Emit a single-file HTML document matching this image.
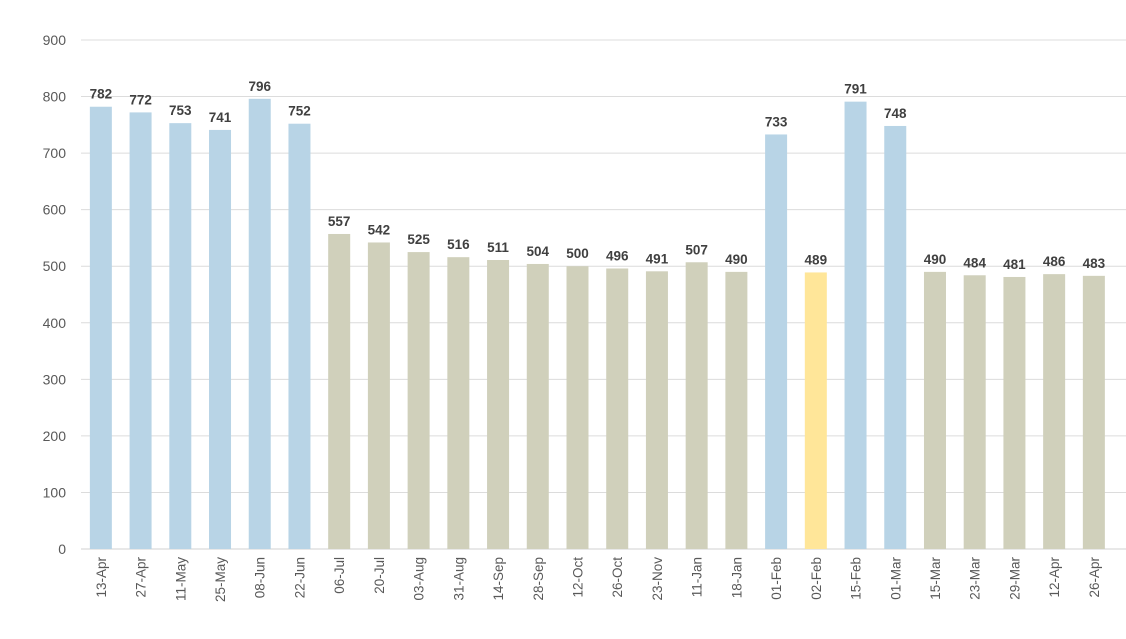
<!DOCTYPE html>
<html><head><meta charset="utf-8"><style>
html,body{margin:0;padding:0;background:#fff;}
svg{display:block;font-family:"Liberation Sans",sans-serif;}
</style></head><body>
<svg id="chart" width="1126" height="639" viewBox="0 0 1126 639"></svg>
<script>
const categories=["13-Apr","27-Apr","11-May","25-May","08-Jun","22-Jun","06-Jul","20-Jul","03-Aug","31-Aug","14-Sep","28-Sep","12-Oct","26-Oct","23-Nov","11-Jan","18-Jan","01-Feb","02-Feb","15-Feb","01-Mar","15-Mar","23-Mar","29-Mar","12-Apr","26-Apr"];
const values=[782,772,753,741,796,752,557,542,525,516,511,504,500,496,491,507,490,733,489,791,748,490,484,481,486,483];
const groups=["b","b","b","b","b","b","k","k","k","k","k","k","k","k","k","k","k","b","y","b","b","k","k","k","k","k"];
const yTicks=[0,100,200,300,400,500,600,700,800,900];
const colors={b:"#b8d4e6",k:"#d0d0bb",y:"#ffe699"};
const NS="http://www.w3.org/2000/svg";
const svg=document.getElementById("chart");
const x0=81,band=39.72,bw=22,yBase=549,yTop=40,yMax=900;
const y=v=>yBase-(v/yMax)*(yBase-yTop);
const xc=i=>x0+band*(i+0.5);
function mk(t,a){const e=document.createElementNS(NS,t);for(const k in a)e.setAttribute(k,a[k]);svg.appendChild(e);return e;}
yTicks.forEach(t=>{
  const l=mk("line",{x1:x0,x2:1126,y1:y(t),y2:y(t),stroke:t===0?"#d0d0d0":"#dcdcdc","stroke-width":1});
  
  
  const tx=mk("text",{x:66,y:y(t)+5,"text-anchor":"end","font-size":14,fill:"#595959"});
  tx.textContent=t;
  
  
});
values.forEach((v,i)=>{
  const r=mk("rect",{x:xc(i)-bw/2,y:y(v),width:bw,height:yBase-y(v),fill:colors[groups[i]]});
  
  
  const lb=mk("text",{x:xc(i),y:y(v)-8,"text-anchor":"middle","font-size":13.5,"font-weight":"bold",fill:"#404040"});
  lb.textContent=v;
  
  
  const cx=xc(i)+5,cy=557;
  const ct=mk("text",{x:cx,y:cy,"text-anchor":"end","font-size":13.5,fill:"#595959",transform:`rotate(-90 ${cx} ${cy})`});
  ct.textContent=categories[i];
  
  
});
</script>
</body></html>
